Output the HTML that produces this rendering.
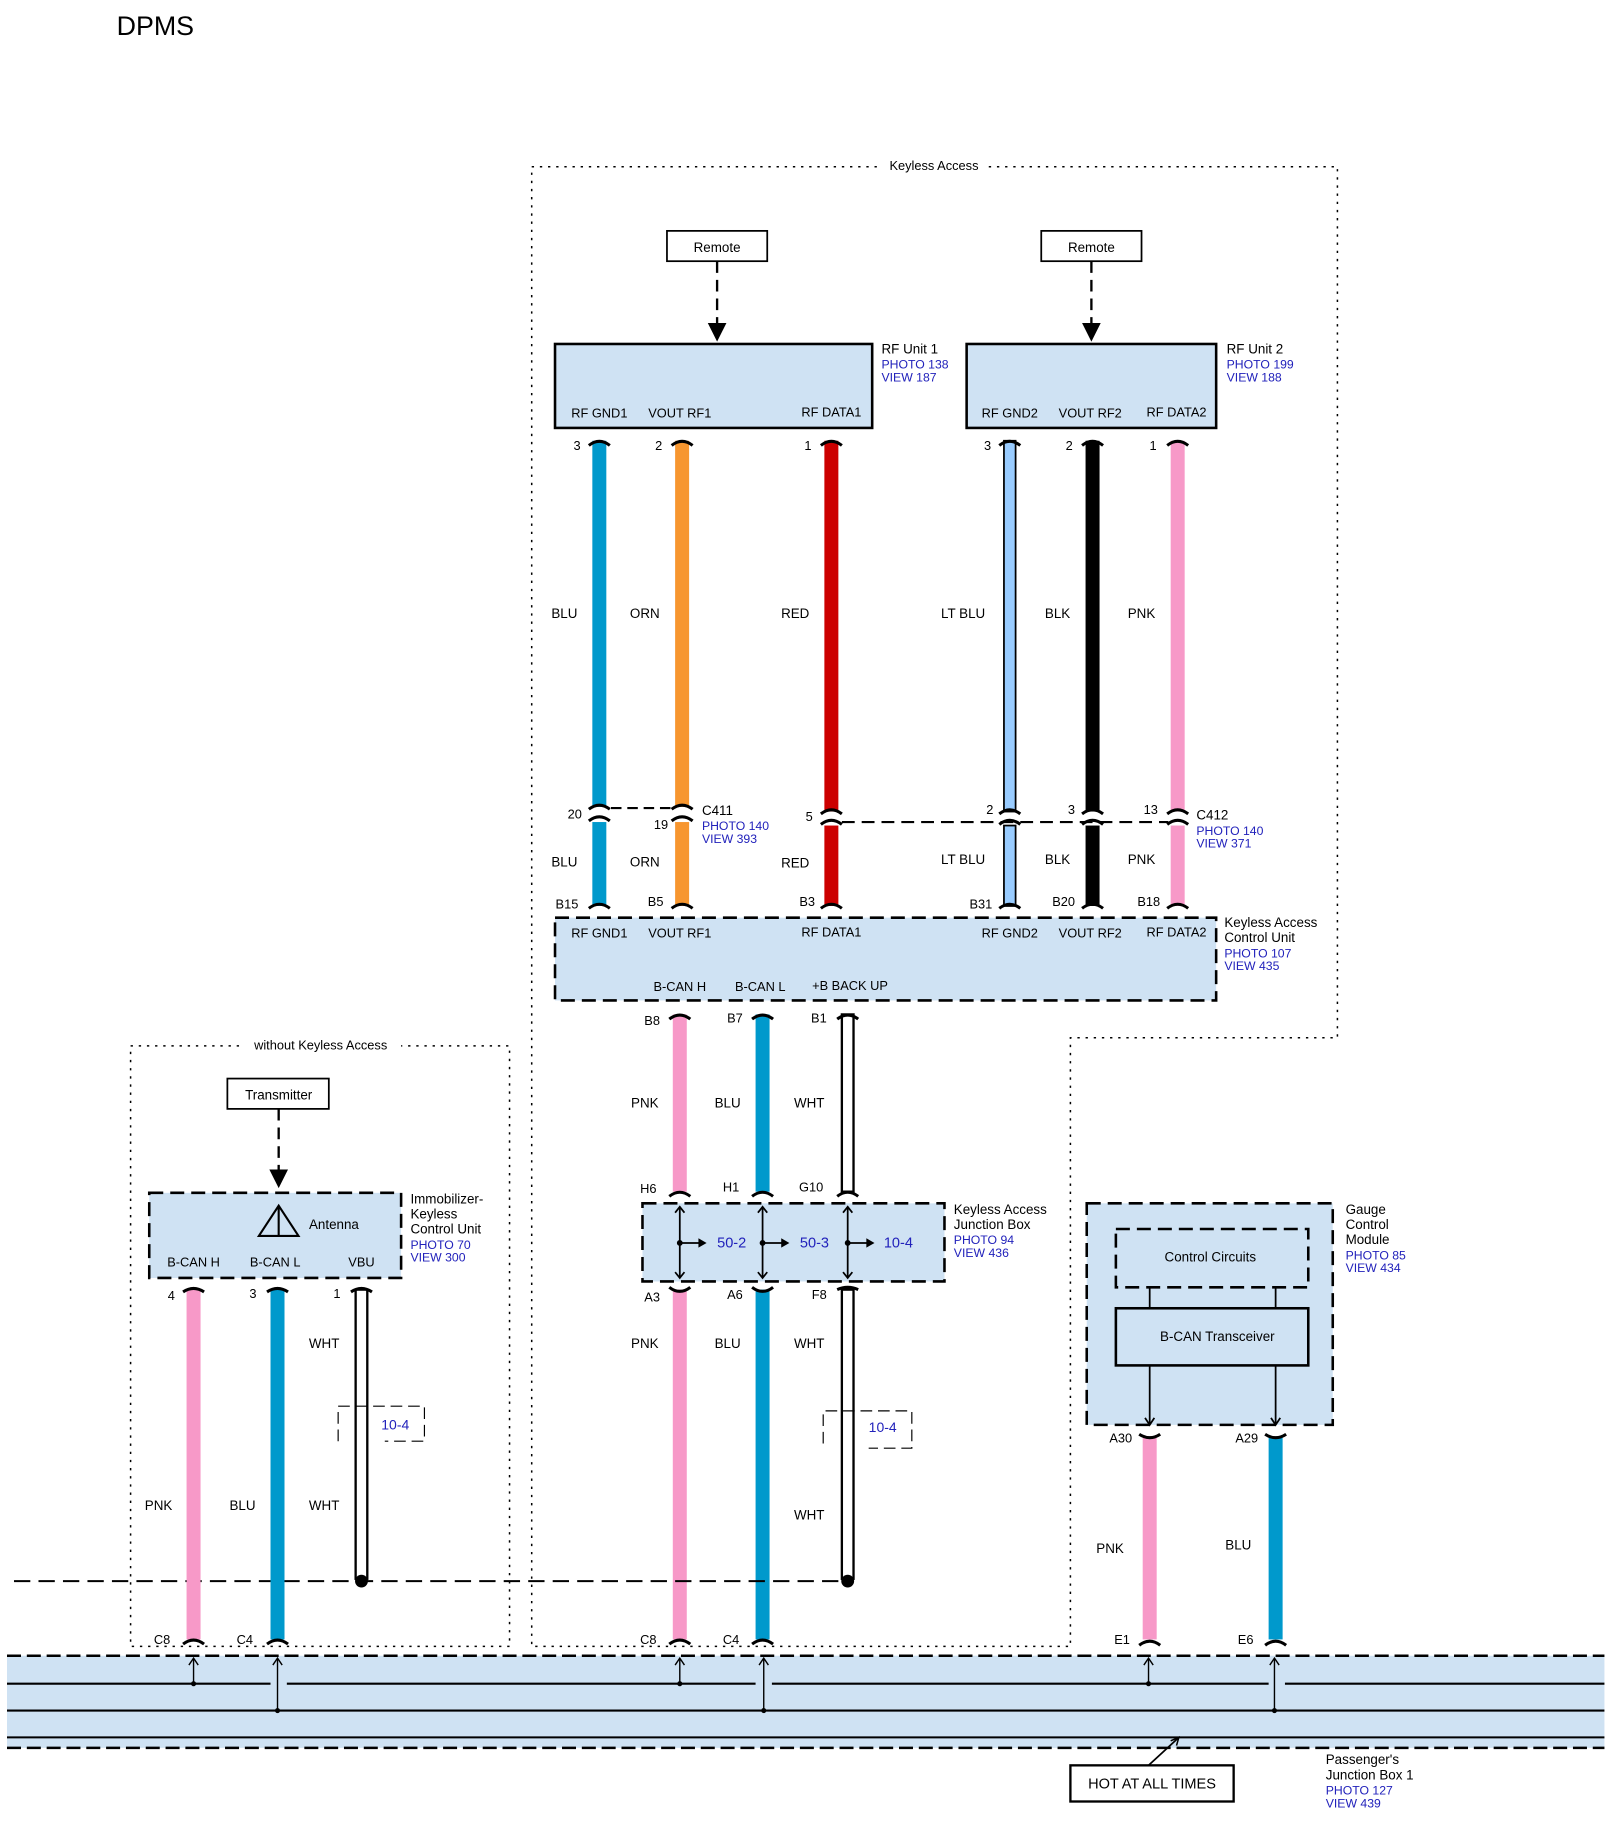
<!DOCTYPE html>
<html><head><meta charset="utf-8"><style>
html,body{margin:0;padding:0;background:#fff;}
svg{display:block;}
text{font-family:"Liberation Sans",sans-serif;font-size:11.5px;fill:#000;}
.b{fill:#2222bb;font-size:10.5px;}
.s{font-size:11px;}
.cap{fill:none;stroke:#000;stroke-width:2.6;}
</style></head><body>
<svg width="1614" height="1831" viewBox="0 0 1384.2 1570.3" xmlns="http://www.w3.org/2000/svg">
<text x="100" y="30" style="font-size:23px">DPMS</text>

<path d="M456 143 H1147 V890 H918 V1412 H456 Z" fill="none" stroke="#000" stroke-width="1.3" stroke-dasharray="2,5"/>
<rect x="755" y="134" width="92" height="14" fill="#fff"/>
<text x="801" y="146" text-anchor="middle" class="s">Keyless Access</text>

<path d="M112 897 H437 V1412 H112 Z" fill="none" stroke="#000" stroke-width="1.3" stroke-dasharray="2,5"/>
<rect x="206" y="889" width="138" height="14" fill="#fff"/>
<text x="275" y="900" text-anchor="middle" class="s">without Keyless Access</text>

<rect x="572" y="198" width="86" height="26" fill="#fff" stroke="#000" stroke-width="1.5"/>
<text x="615" y="216" text-anchor="middle">Remote</text>
<line x1="615" y1="224" x2="615" y2="278" stroke="#000" stroke-width="2" stroke-dasharray="10,6"/>
<polygon points="607,277 623,277 615,293" fill="#000"/>
<rect x="893" y="198" width="86" height="26" fill="#fff" stroke="#000" stroke-width="1.5"/>
<text x="936" y="216" text-anchor="middle">Remote</text>
<line x1="936" y1="224" x2="936" y2="278" stroke="#000" stroke-width="2" stroke-dasharray="10,6"/>
<polygon points="928,277 944,277 936,293" fill="#000"/>

<rect x="476" y="295" width="272" height="72" fill="#cfe2f3" stroke="#000" stroke-width="2.2"/>
<text x="514" y="358" text-anchor="middle" class="s">RF GND1</text>
<text x="583" y="358" text-anchor="middle" class="s">VOUT RF1</text>
<text x="713" y="357" text-anchor="middle" class="s">RF DATA1</text>
<text x="756" y="303">RF Unit 1</text>
<text x="756" y="316" class="b">PHOTO 138</text>
<text x="756" y="327" class="b">VIEW 187</text>
<rect x="829" y="295" width="214" height="72" fill="#cfe2f3" stroke="#000" stroke-width="2.2"/>
<text x="866" y="358" text-anchor="middle" class="s">RF GND2</text>
<text x="935" y="358" text-anchor="middle" class="s">VOUT RF2</text>
<text x="1009" y="357" text-anchor="middle" class="s">RF DATA2</text>
<text x="1052" y="303">RF Unit 2</text>
<text x="1052" y="316" class="b">PHOTO 199</text>
<text x="1052" y="327" class="b">VIEW 188</text>

<rect x="508" y="378" width="12" height="314" fill="#0099cc"/>
<rect x="579" y="378" width="12" height="314" fill="#f7962f"/>
<rect x="707" y="378" width="12" height="318" fill="#cc0000"/>
<rect x="861" y="378" width="10" height="318" fill="#99ccff" stroke="#000" stroke-width="1.5"/>
<rect x="931" y="378" width="12" height="318" fill="#000"/>
<rect x="1004" y="378" width="12" height="318" fill="#f799c8"/>
<g class="cap">
<path d="M505 382 Q514 375 523 382"/><path d="M576 382 Q585 375 594 382"/><path d="M704 382 Q713 375 722 382"/>
<path d="M857 382 Q866 375 875 382"/><path d="M928 382 Q937 375 946 382"/><path d="M1001 382 Q1010 375 1019 382"/>
</g>
<text x="498" y="386" text-anchor="end" class="s">3</text>
<text x="568" y="386" text-anchor="end" class="s">2</text>
<text x="696" y="386" text-anchor="end" class="s">1</text>
<text x="850" y="386" text-anchor="end" class="s">3</text>
<text x="920" y="386" text-anchor="end" class="s">2</text>
<text x="992" y="386" text-anchor="end" class="s">1</text>
<text x="484" y="530" text-anchor="middle">BLU</text>
<text x="553" y="530" text-anchor="middle">ORN</text>
<text x="682" y="530" text-anchor="middle">RED</text>
<text x="826" y="530" text-anchor="middle">LT BLU</text>
<text x="907" y="530" text-anchor="middle">BLK</text>
<text x="979" y="530" text-anchor="middle">PNK</text>

<g class="cap">
<path d="M505 694 Q514 687 523 694"/><path d="M505 704 Q514 697 523 704"/>
<path d="M576 694 Q585 687 594 694"/><path d="M576 704 Q585 697 594 704"/>
<path d="M704 698 Q713 691 722 698"/><path d="M704 707 Q713 700 722 707"/>
<path d="M857 698 Q866 691 875 698"/><path d="M857 707 Q866 700 875 707"/>
<path d="M928 698 Q937 691 946 698"/><path d="M928 707 Q937 700 946 707"/>
<path d="M1001 698 Q1010 691 1019 698"/><path d="M1001 707 Q1010 700 1019 707"/>
</g>
<line x1="524" y1="693" x2="576" y2="693" stroke="#000" stroke-width="1.8" stroke-dasharray="9,5"/>
<line x1="722" y1="705" x2="1002" y2="705" stroke="#000" stroke-width="1.8" stroke-dasharray="11,6"/>
<text x="499" y="702" text-anchor="end" class="s">20</text>
<text x="573" y="711" text-anchor="end" class="s">19</text>
<text x="602" y="699">C411</text>
<text x="602" y="712" class="b">PHOTO 140</text>
<text x="602" y="723" class="b">VIEW 393</text>
<text x="697" y="704" text-anchor="end" class="s">5</text>
<text x="852" y="698" text-anchor="end" class="s">2</text>
<text x="922" y="698" text-anchor="end" class="s">3</text>
<text x="993" y="698" text-anchor="end" class="s">13</text>
<text x="1026" y="703">C412</text>
<text x="1026" y="716" class="b">PHOTO 140</text>
<text x="1026" y="727" class="b">VIEW 371</text>

<rect x="508" y="705" width="12" height="72" fill="#0099cc"/>
<rect x="579" y="705" width="12" height="72" fill="#f7962f"/>
<rect x="707" y="708" width="12" height="69" fill="#cc0000"/>
<rect x="861" y="708" width="10" height="69" fill="#99ccff" stroke="#000" stroke-width="1.5"/>
<rect x="931" y="708" width="12" height="69" fill="#000"/>
<rect x="1004" y="708" width="12" height="69" fill="#f799c8"/>
<text x="484" y="743" text-anchor="middle">BLU</text>
<text x="553" y="743" text-anchor="middle">ORN</text>
<text x="682" y="744" text-anchor="middle">RED</text>
<text x="826" y="741" text-anchor="middle">LT BLU</text>
<text x="907" y="741" text-anchor="middle">BLK</text>
<text x="979" y="741" text-anchor="middle">PNK</text>
<g class="cap">
<path d="M505 779 Q514 772 523 779"/><path d="M576 779 Q585 772 594 779"/><path d="M704 779 Q713 772 722 779"/>
<path d="M857 779 Q866 772 875 779"/><path d="M928 779 Q937 772 946 779"/><path d="M1001 779 Q1010 772 1019 779"/>
</g>
<text x="496" y="779" text-anchor="end" class="s">B15</text>
<text x="569" y="777" text-anchor="end" class="s">B5</text>
<text x="699" y="777" text-anchor="end" class="s">B3</text>
<text x="851" y="779" text-anchor="end" class="s">B31</text>
<text x="922" y="777" text-anchor="end" class="s">B20</text>
<text x="995" y="777" text-anchor="end" class="s">B18</text>

<rect x="476" y="787" width="567" height="71" fill="#cfe2f3" stroke="#000" stroke-width="2.2" stroke-dasharray="12,6"/>
<text x="514" y="804" text-anchor="middle" class="s">RF GND1</text>
<text x="583" y="804" text-anchor="middle" class="s">VOUT RF1</text>
<text x="713" y="803" text-anchor="middle" class="s">RF DATA1</text>
<text x="866" y="804" text-anchor="middle" class="s">RF GND2</text>
<text x="935" y="804" text-anchor="middle" class="s">VOUT RF2</text>
<text x="1009" y="803" text-anchor="middle" class="s">RF DATA2</text>
<text x="583" y="850" text-anchor="middle" class="s">B-CAN H</text>
<text x="652" y="850" text-anchor="middle" class="s">B-CAN L</text>
<text x="729" y="849" text-anchor="middle" class="s">+B BACK UP</text>
<text x="1050" y="795">Keyless Access</text>
<text x="1050" y="808">Control Unit</text>
<text x="1050" y="821" class="b">PHOTO 107</text>
<text x="1050" y="832" class="b">VIEW 435</text>

<rect x="577" y="870" width="12" height="152" fill="#f799c8"/>
<rect x="648" y="870" width="12" height="152" fill="#0099cc"/>
<rect x="722" y="870" width="10" height="152" fill="#fff" stroke="#000" stroke-width="2"/>
<g class="cap">
<path d="M574 874 Q583 867 592 874"/><path d="M645 874 Q654 867 663 874"/><path d="M718 874 Q727 867 736 874"/>
<path d="M574 1026 Q583 1019 592 1026"/><path d="M645 1026 Q654 1019 663 1026"/><path d="M718 1026 Q727 1019 736 1026"/>
</g>
<text x="566" y="879" text-anchor="end" class="s">B8</text>
<text x="637" y="877" text-anchor="end" class="s">B7</text>
<text x="709" y="877" text-anchor="end" class="s">B1</text>
<text x="553" y="950" text-anchor="middle">PNK</text>
<text x="624" y="950" text-anchor="middle">BLU</text>
<text x="694" y="950" text-anchor="middle">WHT</text>
<text x="563" y="1023" text-anchor="end" class="s">H6</text>
<text x="634" y="1022" text-anchor="end" class="s">H1</text>
<text x="706" y="1022" text-anchor="end" class="s">G10</text>

<rect x="551" y="1032" width="259" height="67" fill="#cfe2f3" stroke="#000" stroke-width="2.2" stroke-dasharray="12,6"/>
<g stroke="#000" stroke-width="1.5" fill="none">
<line x1="583" y1="1035" x2="583" y2="1096"/><path d="M579 1040 L583 1035 L587 1040 M579 1091 L583 1096 L587 1091"/>
<line x1="654" y1="1035" x2="654" y2="1096"/><path d="M650 1040 L654 1035 L658 1040 M650 1091 L654 1096 L658 1091"/>
<line x1="727" y1="1035" x2="727" y2="1096"/><path d="M723 1040 L727 1035 L731 1040 M723 1091 L727 1096 L731 1091"/>
<line x1="583" y1="1066" x2="600" y2="1066"/><line x1="654" y1="1066" x2="671" y2="1066"/><line x1="727" y1="1066" x2="744" y2="1066"/>
</g>
<circle cx="583" cy="1066" r="2.5"/><circle cx="654" cy="1066" r="2.5"/><circle cx="727" cy="1066" r="2.5"/>
<polygon points="599,1062 606,1066 599,1070"/><polygon points="670,1062 677,1066 670,1070"/><polygon points="743,1062 750,1066 743,1070"/>
<text x="615" y="1070" class="b" style="font-size:12.5px">50-2</text>
<text x="686" y="1070" class="b" style="font-size:12.5px">50-3</text>
<text x="758" y="1070" class="b" style="font-size:12.5px">10-4</text>
<text x="818" y="1041">Keyless Access</text>
<text x="818" y="1054">Junction Box</text>
<text x="818" y="1067" class="b">PHOTO 94</text>
<text x="818" y="1078" class="b">VIEW 436</text>

<rect x="577" y="1106" width="12" height="300" fill="#f799c8"/>
<rect x="648" y="1106" width="12" height="300" fill="#0099cc"/>
<rect x="722" y="1106" width="10" height="248" fill="#fff" stroke="#000" stroke-width="2"/>
<g class="cap">
<path d="M574 1104 Q583 1111 592 1104"/><path d="M645 1104 Q654 1111 663 1104"/><path d="M718 1106 Q727 1102 736 1106"/>
<path d="M574 1410 Q583 1403 592 1410"/><path d="M645 1410 Q654 1403 663 1410"/>
</g>
<text x="566" y="1116" text-anchor="end" class="s">A3</text>
<text x="637" y="1114" text-anchor="end" class="s">A6</text>
<text x="709" y="1114" text-anchor="end" class="s">F8</text>
<text x="553" y="1156" text-anchor="middle">PNK</text>
<text x="624" y="1156" text-anchor="middle">BLU</text>
<text x="694" y="1156" text-anchor="middle">WHT</text>
<text x="694" y="1303" text-anchor="middle">WHT</text>
<path d="M706 1238 V1210 H782 V1242 H745" fill="none" stroke="#000" stroke-width="1" stroke-dasharray="10,5"/>
<text x="745" y="1228" class="b" style="font-size:12px">10-4</text>
<text x="563" y="1410" text-anchor="end" class="s">C8</text>
<text x="634" y="1410" text-anchor="end" class="s">C4</text>

<line x1="12" y1="1356" x2="727" y2="1356" stroke="#000" stroke-width="1.8" stroke-dasharray="14,7"/>
<rect x="95" y="1140" width="0" height="0"/>

<rect x="195" y="925" width="87" height="26" fill="#fff" stroke="#000" stroke-width="1.5"/>
<text x="239" y="943" text-anchor="middle">Transmitter</text>
<line x1="239" y1="951" x2="239" y2="1004" stroke="#000" stroke-width="2" stroke-dasharray="10,6"/>
<polygon points="231,1003 247,1003 239,1019" fill="#000"/>
<rect x="128" y="1023" width="216" height="73" fill="#cfe2f3" stroke="#000" stroke-width="2.2" stroke-dasharray="12,6"/>
<path d="M222 1060 L239 1034 L256 1060 Z M239 1034 V1060" fill="none" stroke="#000" stroke-width="1.8"/>
<text x="265" y="1054">Antenna</text>
<text x="166" y="1086" text-anchor="middle" class="s">B-CAN H</text>
<text x="236" y="1086" text-anchor="middle" class="s">B-CAN L</text>
<text x="310" y="1086" text-anchor="middle" class="s">VBU</text>
<text x="352" y="1032">Immobilizer-</text>
<text x="352" y="1045">Keyless</text>
<text x="352" y="1058">Control Unit</text>
<text x="352" y="1071" class="b">PHOTO 70</text>
<text x="352" y="1082" class="b">VIEW 300</text>
<rect x="160" y="1106" width="12" height="300" fill="#f799c8"/>
<rect x="232" y="1106" width="12" height="300" fill="#0099cc"/>
<rect x="305" y="1106" width="10" height="248" fill="#fff" stroke="#000" stroke-width="2"/>
<g class="cap">
<path d="M157 1108 Q166 1102 175 1108"/><path d="M229 1108 Q238 1102 247 1108"/><path d="M301 1108 Q310 1102 319 1108"/>
<path d="M157 1410 Q166 1403 175 1410"/><path d="M229 1410 Q238 1403 247 1410"/>
</g>
<circle cx="310" cy="1356" r="5.5"/><circle cx="727" cy="1356" r="5.5"/>
<text x="150" y="1115" text-anchor="end" class="s">4</text>
<text x="220" y="1113" text-anchor="end" class="s">3</text>
<text x="292" y="1113" text-anchor="end" class="s">1</text>
<text x="278" y="1156" text-anchor="middle">WHT</text>
<text x="136" y="1295" text-anchor="middle">PNK</text>
<text x="208" y="1295" text-anchor="middle">BLU</text>
<text x="278" y="1295" text-anchor="middle">WHT</text>
<path d="M290 1236 V1206 H364 V1236 H330" fill="none" stroke="#000" stroke-width="1" stroke-dasharray="10,5"/>
<text x="327" y="1226" class="b" style="font-size:12px">10-4</text>
<text x="146" y="1410" text-anchor="end" class="s">C8</text>
<text x="217" y="1410" text-anchor="end" class="s">C4</text>

<rect x="932" y="1032" width="211" height="190" fill="#cfe2f3" stroke="#000" stroke-width="2.2" stroke-dasharray="12,6"/>
<rect x="957" y="1054" width="165" height="50" fill="#cfe2f3" stroke="#000" stroke-width="2.2" stroke-dasharray="12,6"/>
<text x="1038" y="1082" text-anchor="middle">Control Circuits</text>
<line x1="986" y1="1104" x2="986" y2="1122" stroke="#000" stroke-width="1.5"/>
<line x1="1094" y1="1104" x2="1094" y2="1122" stroke="#000" stroke-width="1.5"/>
<rect x="957" y="1122" width="165" height="49" fill="#cfe2f3" stroke="#000" stroke-width="2.2"/>
<text x="1044" y="1150" text-anchor="middle">B-CAN Transceiver</text>
<g stroke="#000" stroke-width="1.5" fill="none">
<line x1="986" y1="1171" x2="986" y2="1222"/><path d="M982 1216 L986 1222 L990 1216"/>
<line x1="1094" y1="1171" x2="1094" y2="1222"/><path d="M1090 1216 L1094 1222 L1098 1216"/>
</g>
<text x="1154" y="1041">Gauge</text>
<text x="1154" y="1054">Control</text>
<text x="1154" y="1067">Module</text>
<text x="1154" y="1080" class="b">PHOTO 85</text>
<text x="1154" y="1091" class="b">VIEW 434</text>
<rect x="980" y="1232" width="12" height="174" fill="#f799c8"/>
<rect x="1088" y="1232" width="12" height="174" fill="#0099cc"/>
<g class="cap">
<path d="M977 1230 Q986 1236 995 1230"/><path d="M1085 1230 Q1094 1236 1103 1230"/>
<path d="M977 1411 Q986 1404 995 1411"/><path d="M1085 1411 Q1094 1404 1103 1411"/>
</g>
<text x="971" y="1237" text-anchor="end" class="s">A30</text>
<text x="1079" y="1237" text-anchor="end" class="s">A29</text>
<text x="952" y="1332" text-anchor="middle">PNK</text>
<text x="1062" y="1329" text-anchor="middle">BLU</text>
<text x="969" y="1410" text-anchor="end" class="s">E1</text>
<text x="1075" y="1410" text-anchor="end" class="s">E6</text>

<rect x="6" y="1420" width="1370" height="79" fill="#cfe2f3"/>
<line x1="6" y1="1420" x2="1376" y2="1420" stroke="#000" stroke-width="2.2" stroke-dasharray="12,5"/>
<line x1="6" y1="1499" x2="1376" y2="1499" stroke="#000" stroke-width="2.2" stroke-dasharray="12,5"/>
<g stroke="#000" stroke-width="1.8">
<path d="M6 1444 H232 M246 1444 H648 M662 1444 H1088 M1102 1444 H1376"/>
<line x1="6" y1="1467" x2="1376" y2="1467"/>
<line x1="6" y1="1490" x2="1376" y2="1490"/>
</g>
<g stroke="#000" stroke-width="1.2" fill="none">
<line x1="166" y1="1422" x2="166" y2="1444"/><path d="M162 1428 L166 1422 L170 1428"/>
<line x1="238" y1="1422" x2="238" y2="1467"/><path d="M234 1428 L238 1422 L242 1428"/>
<line x1="583" y1="1422" x2="583" y2="1444"/><path d="M579 1428 L583 1422 L587 1428"/>
<line x1="655" y1="1422" x2="655" y2="1467"/><path d="M651 1428 L655 1422 L659 1428"/>
<line x1="985" y1="1422" x2="985" y2="1444"/><path d="M981 1428 L985 1422 L989 1428"/>
<line x1="1093" y1="1422" x2="1093" y2="1467"/><path d="M1089 1428 L1093 1422 L1097 1428"/>
</g>
<circle cx="166" cy="1444" r="2.2"/><circle cx="238" cy="1467" r="2.2"/><circle cx="583" cy="1444" r="2.2"/>
<circle cx="655" cy="1467" r="2.2"/><circle cx="985" cy="1444" r="2.2"/><circle cx="1093" cy="1467" r="2.2"/>
<line x1="985" y1="1514" x2="1010" y2="1491" stroke="#000" stroke-width="1.5"/>
<path d="M1004 1493 L1011 1490 L1009 1497" fill="none" stroke="#000" stroke-width="1.3"/>
<rect x="918" y="1514" width="140" height="31" fill="#fff" stroke="#000" stroke-width="2"/>
<text x="988" y="1534" text-anchor="middle" style="font-size:12.5px">HOT AT ALL TIMES</text>
<text x="1137" y="1513">Passenger's</text>
<text x="1137" y="1526">Junction Box 1</text>
<text x="1137" y="1539" class="b">PHOTO 127</text>
<text x="1137" y="1550" class="b">VIEW 439</text>
</svg>
</body></html>
